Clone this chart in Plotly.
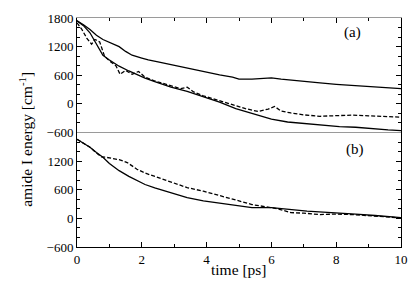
import plotly.graph_objects as go

# ---- data ----
# panel (a)
a1_t = [0, 0.2, 0.4, 0.6, 0.8, 1.0, 1.3, 1.5, 1.7, 2.0, 2.2, 2.5, 2.9, 3.2, 3.5, 3.9, 4.4, 4.8, 5.0, 5.4, 5.7, 6.0, 6.3, 6.7, 7.1, 7.5, 8.0, 8.4, 8.8, 9.2, 9.6, 10]
a1_v = [1740, 1660, 1560, 1440, 1350, 1290, 1200, 1100, 1020, 960, 920, 880, 820, 780, 740, 680, 610, 560, 520, 520, 530, 545, 520, 490, 470, 440, 410, 390, 380, 350, 330, 320]

a2_t = [0, 0.2, 0.4, 0.6, 0.8, 1.0, 1.3, 1.6, 1.85, 2.1, 2.4, 2.9, 3.4, 3.9, 4.4, 4.9, 5.4, 6.0, 6.5, 7.1, 7.6, 8.1, 8.6, 9.2, 9.6, 10]
a2_v = [1740, 1640, 1490, 1250, 1020, 920, 790, 690, 610, 540, 465, 350, 260, 155, 35, -100, -200, -320, -380, -420, -450, -475, -490, -530, -545, -560]

a3_t = [0, 0.15, 0.3, 0.45, 0.55, 0.7, 0.85, 1.0, 1.2, 1.33, 1.5, 1.7, 1.9, 2.1, 2.4, 2.9, 3.2, 3.4, 3.6, 3.9, 4.2, 4.5, 4.9, 5.2, 5.6, 5.9, 6.1, 6.3, 6.6, 7.0, 7.5, 8.0, 8.5, 9.0, 9.5, 10]
a3_v = [1700, 1560, 1380, 1250, 1350, 1300, 1000, 900, 800, 620, 700, 620, 680, 560, 480, 370, 320, 350, 250, 170, 110, 50, -40, -100, -160, -110, -55, -150, -190, -230, -260, -240, -235, -250, -270, -280]

# panel (b)
b1_t = [0, 0.2, 0.4, 0.6, 0.8, 1.0, 1.3, 1.6, 1.85, 2.1, 2.4, 2.9, 3.4, 3.9, 4.4, 4.9, 5.4, 6.0, 6.5, 7.1, 7.6, 8.1, 8.6, 9.2, 9.6, 10]
b1_v = [1660, 1580, 1490, 1380, 1280, 1150, 1000, 880, 790, 710, 640, 540, 435, 365, 315, 270, 225, 225, 190, 150, 130, 115, 90, 60, 35, 15]

b2_t = [0, 0.2, 0.4, 0.6, 0.75, 0.9, 1.1, 1.3, 1.55, 1.85, 2.1, 2.4, 2.9, 3.4, 3.9, 4.4, 4.9, 5.4, 5.8, 6.2, 6.6, 7.0, 7.5, 8.0, 8.5, 9.0, 9.5, 10]
b2_v = [1660, 1580, 1490, 1370, 1290, 1280, 1260, 1230, 1170, 1030, 950, 880, 750, 645, 570, 470, 385, 290, 240, 200, 120, 110, 80, 90, 80, 60, 40, 10]

x_ticks = [0, 2, 4, 6, 8, 10]
y_ticks_a = [1800, 1200, 600, 0, -600]
y_ticks_b = [1200, 600, 0, -600]

FONT = "Liberation Serif"
solid = dict(color="black", width=1.3)
dashed = dict(color="black", width=1.3, dash="4px,2px")

fig = go.Figure()
fig.add_trace(go.Scatter(x=a1_t, y=a1_v, mode="lines", line=solid, xaxis="x2", yaxis="y"))
fig.add_trace(go.Scatter(x=a2_t, y=a2_v, mode="lines", line=solid, xaxis="x2", yaxis="y"))
fig.add_trace(go.Scatter(x=a3_t, y=a3_v, mode="lines", line=dashed, xaxis="x2", yaxis="y"))
fig.add_trace(go.Scatter(x=b1_t, y=b1_v, mode="lines", line=solid, xaxis="x", yaxis="y2"))
fig.add_trace(go.Scatter(x=b2_t, y=b2_v, mode="lines", line=dashed, xaxis="x", yaxis="y2"))

yax_common = dict(range=[-600, 1800], showgrid=False, zeroline=False, showline=True,
                  linecolor="black", linewidth=1, mirror="ticks", ticks="inside",
                  ticklen=5, tickcolor="black", tickwidth=1, automargin=False,
                  minor=dict(dtick=200, ticks="inside", ticklen=3, tickcolor="black"),
                  tickfont=dict(family=FONT, size=13, color="black"))

# the page body adds an 8px offset, so the figure is 412x280 and margins are compensated
fig.update_layout(
    width=412, height=280,
    margin=dict(l=69, r=19, t=10, b=41),
    paper_bgcolor="white", plot_bgcolor="white",
    showlegend=False,
    xaxis=dict(domain=[0, 1], anchor="y2", range=[0, 10], tickvals=x_ticks, automargin=False,
               showgrid=False, zeroline=False, showline=True, linecolor="black", linewidth=1,
               ticks="inside", ticklen=5, tickcolor="black",
               minor=dict(dtick=1, ticks="inside", ticklen=3, tickcolor="black"),
               tickfont=dict(family=FONT, size=13, color="black")),
    xaxis2=dict(domain=[0, 1], anchor="y", side="top", range=[0, 10], tickvals=x_ticks,
                showticklabels=False, showgrid=False, zeroline=False, showline=True,
                linecolor="#9a9a9a", linewidth=1, automargin=False,
                ticks="inside", ticklen=5, tickcolor="black",
                minor=dict(dtick=1, ticks="inside", ticklen=3, tickcolor="black")),
    yaxis=dict(domain=[0.5, 1], anchor="x2", tickvals=y_ticks_a, **yax_common),
    yaxis2=dict(domain=[0, 0.5], anchor="x", tickvals=y_ticks_b, **yax_common),
    shapes=[dict(type="line", xref="paper", yref="paper", x0=0, x1=1, y0=0.5, y1=0.5,
                 line=dict(color="#9a9a9a", width=1.2))],
    annotations=[
        dict(text="(a)", x=8.49, y=1492, xref="x2", yref="y", showarrow=False,
             font=dict(family=FONT, size=15, color="black")),
        dict(text="(b)", x=8.59, y=1452, xref="x", yref="y2", showarrow=False,
             font=dict(family=FONT, size=15, color="black")),
        dict(text="amide I energy [cm<sup>-1</sup>]", x=-0.16, y=0.469, xref="paper", yref="paper",
             textangle=-90, showarrow=False, xanchor="center", yanchor="middle",
             font=dict(family=FONT, size=15.5, color="black")),
        dict(text="time [ps]", x=0.5, y=-0.099, xref="paper", yref="paper",
             showarrow=False, xanchor="center", yanchor="middle",
             font=dict(family=FONT, size=15.5, color="black")),
    ],
)

fig.write_html("out.html")
